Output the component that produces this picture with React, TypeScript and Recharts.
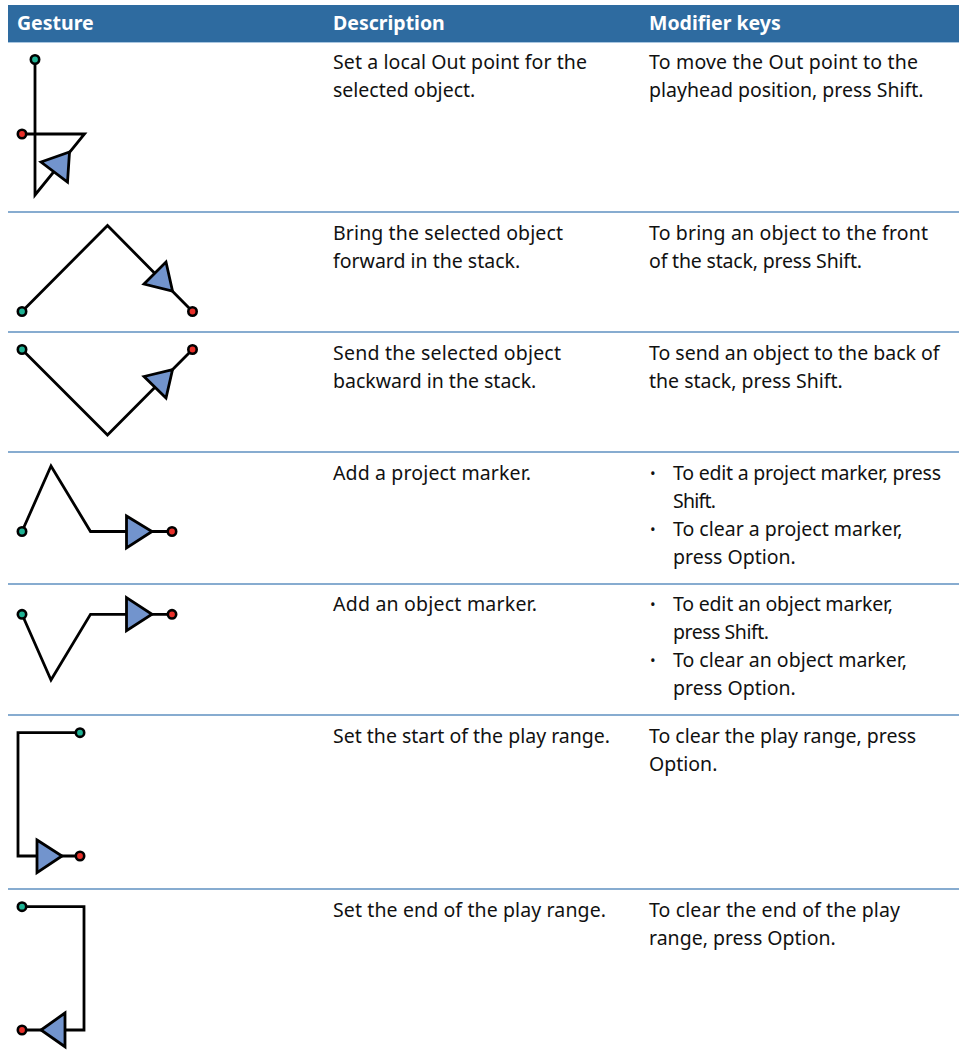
import React from "react";
import { ComposedChart, Line, XAxis, YAxis, ReferenceArea, ReferenceLine } from "recharts";

type Pt = { x: number; y: number };
const W = 959;
const H = 1060;

const headers = ["Gesture", "Description", "Modifier keys"];
const columnX = [17, 333, 649];
const bulletX = 650;
const bulletTextX = 673;
const headerBaseline = 29.5;
const lineHeight = 28;
const rowBaselines = [69, 240, 360, 480, 611, 743, 917];
const separators = [212, 332, 452, 584, 715, 889];

const descriptions = [
  ["Set a local Out point for the", "selected object."],
  ["Bring the selected object", "forward in the stack."],
  ["Send the selected object", "backward in the stack."],
  ["Add a project marker."],
  ["Add an object marker."],
  ["Set the start of the play range."],
  ["Set the end of the play range."],
];
const modifiers = [
  ["To move the Out point to the", "playhead position, press Shift."],
  ["To bring an object to the front", "of the stack, press Shift."],
  ["To send an object to the back of", "the stack, press Shift."],
  [],
  [],
  ["To clear the play range, press", "Option."],
  ["To clear the end of the play", "range, press Option."],
];
const bulleted: Record<number, string[][]> = {
  3: [["To edit a project marker, press", "Shift."], ["To clear a project marker,", "press Option."]],
  4: [["To edit an object marker,", "press Shift."], ["To clear an object marker,", "press Option."]],
};
// Right edge of the lines whose natural width differs most from the reference.
const lineRightEdges: Record<string, number> = {
  "Set a local Out point for the": 587,
  "Bring the selected object": 563,
  "Send the selected object": 561,
  "Add a project marker.": 531,
  "Add an object marker.": 537,
  "Set the end of the play range.": 606,
  "To move the Out point to the": 918,
  "To bring an object to the front": 928,
  "of the stack, press Shift.": 862,
  "To edit a project marker, press": 941,
  "Shift.": 716,
  "To edit an object marker,": 893,
  "press Shift.": 769,
  "To clear the end of the play": 900,
};

const gesturePaths: Pt[][] = [
  [{ x: 35, y: 59.5 }, { x: 35, y: 195 }, { x: 84.5, y: 134 }, { x: 22, y: 134 }],
  [{ x: 22, y: 311.5 }, { x: 107.5, y: 225.5 }, { x: 192.5, y: 311.5 }],
  [{ x: 22, y: 349.5 }, { x: 107.5, y: 435 }, { x: 192.5, y: 349.5 }],
  [{ x: 22, y: 531.5 }, { x: 51, y: 466 }, { x: 90.5, y: 531.5 }, { x: 172, y: 531.5 }],
  [{ x: 22, y: 614.3 }, { x: 51, y: 680 }, { x: 90.5, y: 614.3 }, { x: 172, y: 614.3 }],
  [{ x: 80, y: 732.7 }, { x: 18, y: 732.7 }, { x: 18, y: 856 }, { x: 80, y: 856 }],
  [{ x: 22, y: 906.7 }, { x: 84, y: 906.7 }, { x: 84, y: 1030 }, { x: 22, y: 1030 }],
];
const arrowHeads: Pt[][] = [
  [{ x: 41, y: 162 }, { x: 69.5, y: 152 }, { x: 67.5, y: 182 }],
  [{ x: 144, y: 284 }, { x: 166, y: 262 }, { x: 172.5, y: 291 }],
  [{ x: 144, y: 376.5 }, { x: 172.5, y: 369.7 }, { x: 166, y: 398 }],
  [{ x: 126.5, y: 516 }, { x: 152, y: 531.5 }, { x: 126.5, y: 548 }],
  [{ x: 126.5, y: 597.7 }, { x: 152, y: 614.3 }, { x: 126.5, y: 630.7 }],
  [{ x: 37, y: 840 }, { x: 62, y: 856 }, { x: 37, y: 872.7 }],
  [{ x: 65, y: 1013 }, { x: 41, y: 1030 }, { x: 65, y: 1046.7 }],
];

const FONT = "'Noto Sans', sans-serif";
const FONT_SIZE = 19.5;
const HEADER = "#2e6ba0";
const INK = "#000";

type TextRow = { x: number; y: number; label: string; bold?: boolean; color?: string; bullet?: boolean };
const textRows: TextRow[] = [];
headers.forEach((label, i) => textRows.push({ x: columnX[i], y: headerBaseline, label, bold: true, color: "#fff" }));
descriptions.forEach((lines, r) =>
  lines.forEach((label, i) => textRows.push({ x: columnX[1], y: rowBaselines[r] + i * lineHeight, label }))
);
modifiers.forEach((lines, r) =>
  lines.forEach((label, i) => textRows.push({ x: columnX[2], y: rowBaselines[r] + i * lineHeight, label }))
);
Object.entries(bulleted).forEach(([r, items]) => {
  let n = 0;
  items.forEach((lines) => {
    textRows.push({ x: bulletX, y: rowBaselines[+r] + n * lineHeight - 1, label: "•", bullet: true });
    lines.forEach((label) => {
      textRows.push({ x: bulletTextX, y: rowBaselines[+r] + n * lineHeight, label });
      n += 1;
    });
  });
});

const textDot = (p: any) => {
  const d = p.payload as TextRow;
  const right = lineRightEdges[d.label];
  return (
    <text
      key={p.index}
      x={p.cx}
      y={p.cy}
      fontFamily={FONT}
      fontSize={d.bullet ? 15 : FONT_SIZE}
      fontWeight={d.bold ? 700 : 400}
      fill={d.color ?? "#111"}
      {...(right ? { textLength: right - d.x, lengthAdjust: "spacing" } : {})}
    >
      {d.label}
    </text>
  );
};

const endpointDot = (p: any) => {
  const last = p.points ? p.points.length - 1 : -1;
  if (p.index !== 0 && p.index !== last) return <g key={p.index} />;
  return (
    <circle key={p.index} cx={p.cx} cy={p.cy} r={4.2} fill={p.index === 0 ? "#1fb294" : "#e8302a"} stroke={INK} strokeWidth={2.6} />
  );
};

const triangleDot = (p: any) => {
  if (p.index !== 0 || !p.points) return <g key={p.index} />;
  const pts = p.points.map((q: any) => `${q.x},${q.y}`).join(" ");
  return <polygon key={p.index} points={pts} fill="#7294cd" stroke={INK} strokeWidth={2.8} strokeLinejoin="miter" />;
};

export default function App() {
  return (
    <div style={{ position: "absolute", left: 0, top: 0, width: W, height: H }}>
      <ComposedChart width={W} height={H} margin={{ top: 0, right: 0, bottom: 0, left: 0 }}>
        <XAxis type="number" dataKey="x" domain={[0, W]} hide allowDataOverflow />
        <YAxis type="number" domain={[0, H]} reversed hide allowDataOverflow />
        <ReferenceArea x1={8} x2={W} y1={5} y2={42} fill={HEADER} fillOpacity={1} stroke="none" />
        <ReferenceLine segment={[{ x: 8, y: 42.5 }, { x: W, y: 42.5 }]} stroke="#a9c6e0" strokeWidth={1} />
        {separators.map((y) => (
          <ReferenceLine key={y} segment={[{ x: 8, y }, { x: W, y }]} stroke="#5f90c0" strokeWidth={1.5} />
        ))}
        {gesturePaths.map((d, i) => (
          <Line key={`g${i}`} data={d} dataKey="y" stroke={INK} strokeWidth={2.8} dot={endpointDot} activeDot={false} isAnimationActive={false} type="linear" />
        ))}
        {arrowHeads.map((d, i) => (
          <Line key={`a${i}`} data={d} dataKey="y" stroke="none" dot={triangleDot} activeDot={false} isAnimationActive={false} type="linear" />
        ))}
        <Line data={textRows} dataKey="y" stroke="none" dot={textDot} activeDot={false} isAnimationActive={false} type="linear" />
      </ComposedChart>
    </div>
  );
}
